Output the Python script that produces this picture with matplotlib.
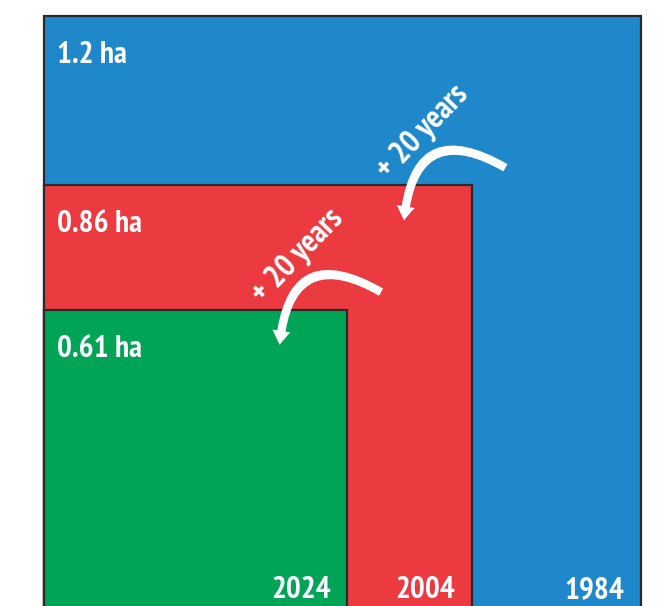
import matplotlib.pyplot as plt
from matplotlib.patches import Rectangle, FancyArrowPatch

# farm size per year (hectares)
years = ["1984", "2004", "2024"]
areas = [1.2, 0.86, 0.61]
labels = ["1.2 ha", "0.86 ha", "0.61 ha"]
colors = ["#1f88cb", "#ec3a41", "#00a457"]
step_text = "+ 20 years"

plt.rcParams['font.family'] = ['PT Sans Narrow', 'DejaVu Sans']

PX = 497.5  # pixels per hectare

fig = plt.figure(figsize=(6.66, 6.06), dpi=100)
ax = fig.add_axes([0, 0, 1, 1])
ax.set_xlim(-44 / PX, 622 / PX)
ax.set_ylim(7 / PX, 613 / PX)
ax.set_aspect('equal')
ax.axis('off')

for yr, a, lab, c in zip(years, areas, labels, colors):
    ax.add_patch(Rectangle((0, 0), a, a, facecolor=c, edgecolor="#2a2a2a", lw=1.6))
    ax.text(13 / PX, a - 39 / PX, lab, color="white", fontsize=22.5, fontweight="bold",
            ha="left", va="center")
    ax.text(a - 17 / PX, 23 / PX, yr, color="white", fontsize=22.5, fontweight="bold",
            ha="right", va="center")

# curved arrows from each square down into the next one
for big, small in zip(areas[:-1], areas[1:]):
    cx, cy = small, small  # top-right corner of the smaller square
    tail = (cx + 36 / PX, cy + 16 / PX)
    head = (cx - 68 / PX, cy - 38 / PX)
    arr = FancyArrowPatch(tail, head, connectionstyle="arc3,rad=0.8",
                          arrowstyle="simple,head_width=13,head_length=10,tail_width=6",
                          color="white", lw=0, mutation_scale=1)
    ax.add_patch(arr)
    ax.text(cx - 49 / PX, cy + 53 / PX, step_text, color="white", fontsize=23,
            fontweight="bold", rotation=46, ha="center", va="center",
            rotation_mode="anchor")

fig.savefig("out.png", dpi=100)
